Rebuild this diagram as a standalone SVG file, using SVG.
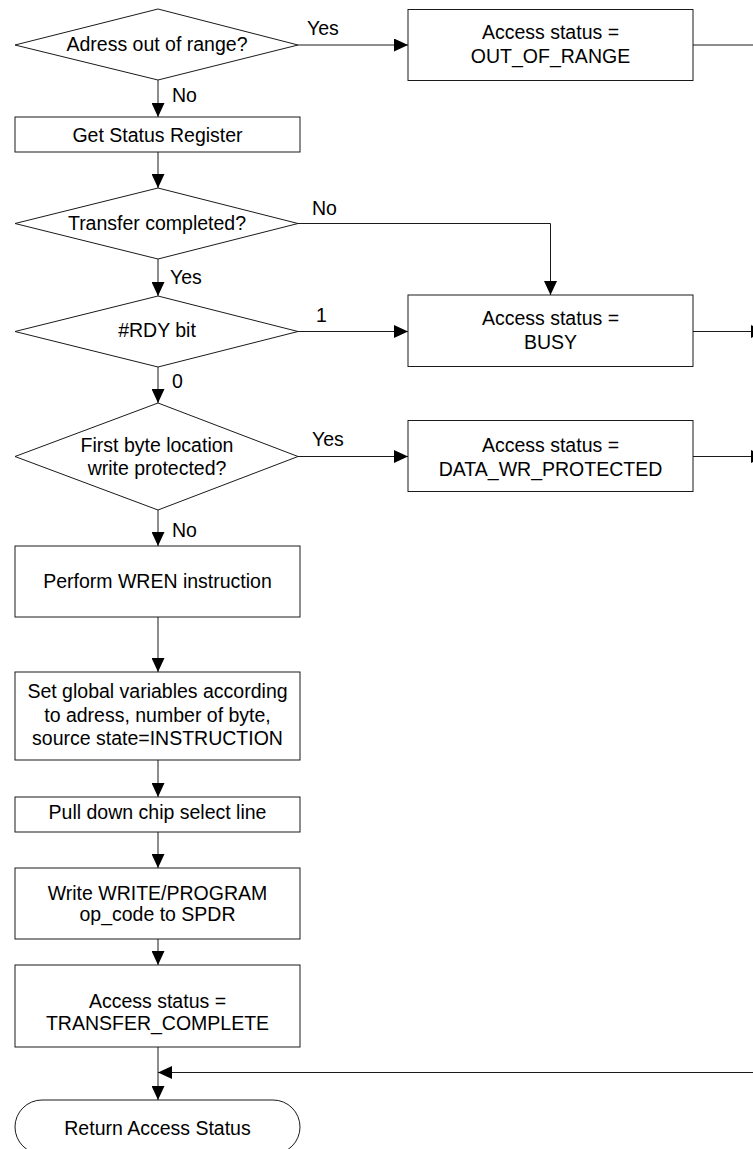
<svg xmlns="http://www.w3.org/2000/svg" width="753" height="1149" viewBox="0 0 753 1149">
  <style>
    .shape { fill: #ffffff; stroke: #1a1a1a; stroke-width: 1; }
    .wire { fill: none; stroke: #1a1a1a; stroke-width: 1; }
    text { font-family: "Liberation Sans", Arial, sans-serif; font-size: 19.5px; fill: #000000; }
    .c { text-anchor: middle; }
  </style>
  <defs>
    <marker id="arrow" viewBox="0 0 14 13" refX="14" refY="6.5" markerWidth="14" markerHeight="13" markerUnits="userSpaceOnUse" orient="auto">
      <path d="M0,0 L14,6.5 L0,13 Z" fill="#000000"/>
    </marker>
  </defs>
  <rect width="753" height="1149" fill="#ffffff"/>

  <!-- connectors -->
  <g id="connectors">
    <line class="wire" x1="298" y1="45" x2="408" y2="45" marker-end="url(#arrow)"/>
    <line class="wire" x1="693" y1="45" x2="753" y2="45"/>
    <line class="wire" x1="158" y1="80" x2="158" y2="117" marker-end="url(#arrow)"/>
    <line class="wire" x1="158" y1="152" x2="158" y2="188" marker-end="url(#arrow)"/>
    <polyline class="wire" points="298,223.5 550.5,223.5 550.5,295" marker-end="url(#arrow)"/>
    <line class="wire" x1="158" y1="259" x2="158" y2="296" marker-end="url(#arrow)"/>
    <line class="wire" x1="298" y1="331.5" x2="408" y2="331.5" marker-end="url(#arrow)"/>
    <line class="wire" x1="693" y1="331.5" x2="765" y2="331.5" marker-end="url(#arrow)"/>
    <line class="wire" x1="158" y1="367" x2="158" y2="403" marker-end="url(#arrow)"/>
    <line class="wire" x1="298" y1="456.5" x2="408" y2="456.5" marker-end="url(#arrow)"/>
    <line class="wire" x1="693" y1="456.5" x2="765" y2="456.5" marker-end="url(#arrow)"/>
    <line class="wire" x1="158" y1="510" x2="158" y2="546" marker-end="url(#arrow)"/>
    <line class="wire" x1="158" y1="617" x2="158" y2="672" marker-end="url(#arrow)"/>
    <line class="wire" x1="158" y1="760" x2="158" y2="797" marker-end="url(#arrow)"/>
    <line class="wire" x1="158" y1="832" x2="158" y2="868" marker-end="url(#arrow)"/>
    <line class="wire" x1="158" y1="939" x2="158" y2="965" marker-end="url(#arrow)"/>
    <line class="wire" x1="753" y1="1072.5" x2="158" y2="1072.5" marker-end="url(#arrow)"/>
    <line class="wire" x1="158" y1="1047" x2="158" y2="1100" marker-end="url(#arrow)"/>
  </g>

  <!-- connector labels -->
  <g id="labels">
    <text x="307" y="35">Yes</text>
    <text x="172" y="102">No</text>
    <text x="312" y="215">No</text>
    <text x="170" y="284">Yes</text>
    <text x="316" y="321.5">1</text>
    <text x="172" y="388">0</text>
    <text x="312" y="446">Yes</text>
    <text x="172" y="536.5">No</text>
  </g>

  <g id="range-check">
    <polygon class="shape" points="15,45 158,9 298,45 158,80"/>
    <text class="c" x="157" y="51">Adress out of range?</text>
  </g>

  <g id="status-out-of-range">
    <rect class="shape" x="408" y="9.5" width="285" height="71"/>
    <text class="c" x="550.5" y="39.3">Access status =</text>
    <text class="c" x="550.5" y="63.3">OUT_OF_RANGE</text>
  </g>

  <g id="get-status">
    <rect class="shape" x="15" y="117" width="285" height="35"/>
    <text class="c" x="157.5" y="141.5">Get Status Register</text>
  </g>

  <g id="transfer-check">
    <polygon class="shape" points="15,223.5 158,188 298,223.5 158,259"/>
    <text class="c" x="157" y="230">Transfer completed?</text>
  </g>

  <g id="rdy-check">
    <polygon class="shape" points="15,331.5 158,296 298,331.5 158,367"/>
    <text class="c" x="157" y="336.7">#RDY bit</text>
  </g>

  <g id="status-busy">
    <rect class="shape" x="408" y="295" width="285" height="71.5"/>
    <text class="c" x="550.5" y="325">Access status =</text>
    <text class="c" x="550.5" y="349">BUSY</text>
  </g>

  <g id="protect-check">
    <polygon class="shape" points="15,456.5 158,403 298,456.5 158,510"/>
    <text class="c" x="157" y="451.7">First byte location</text>
    <text class="c" x="157" y="475">write protected?</text>
  </g>

  <g id="status-protected">
    <rect class="shape" x="408" y="420.5" width="285" height="71"/>
    <text class="c" x="550.5" y="451.7">Access status =</text>
    <text class="c" x="550.5" y="475.7">DATA_WR_PROTECTED</text>
  </g>

  <g id="wren">
    <rect class="shape" x="15" y="546" width="285" height="71"/>
    <text class="c" x="157.5" y="588">Perform WREN instruction</text>
  </g>

  <g id="set-globals">
    <rect class="shape" x="15" y="672" width="285" height="88"/>
    <text class="c" x="157.5" y="698">Set global variables according</text>
    <text class="c" x="157.5" y="721.7">to adress, number of byte,</text>
    <text class="c" x="157.5" y="745">source state=INSTRUCTION</text>
  </g>

  <g id="chip-select">
    <rect class="shape" x="15" y="797" width="285" height="35"/>
    <text class="c" x="157.5" y="819.3">Pull down chip select line</text>
  </g>

  <g id="write-opcode">
    <rect class="shape" x="15" y="868" width="285" height="71"/>
    <text class="c" x="157.5" y="900">Write WRITE/PROGRAM</text>
    <text class="c" x="157.5" y="920.5">op_code to SPDR</text>
  </g>

  <g id="status-complete">
    <rect class="shape" x="15" y="965" width="285" height="82"/>
    <text class="c" x="157.5" y="1008.3">Access status =</text>
    <text class="c" x="157.5" y="1030">TRANSFER_COMPLETE</text>
  </g>

  <g id="return-status">
    <rect class="shape" x="15" y="1100" width="285" height="54" rx="27" ry="27"/>
    <text class="c" x="157.5" y="1135">Return Access Status</text>
  </g>
</svg>
